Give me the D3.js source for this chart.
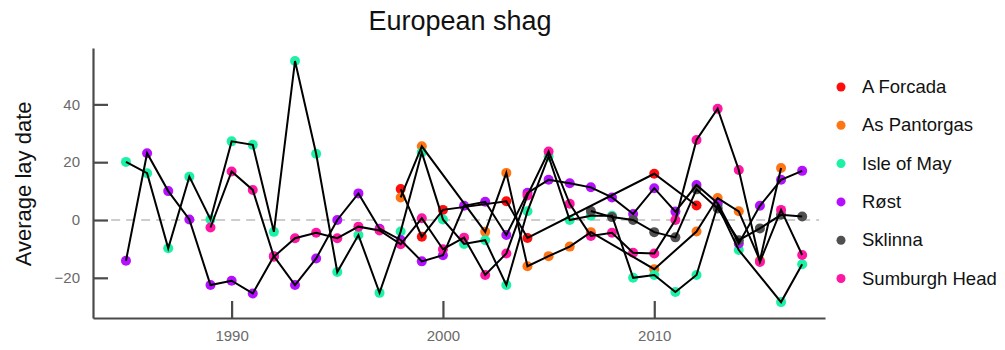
<!DOCTYPE html>
<html>
<head>
<meta charset="utf-8">
<script src="https://cdn.jsdelivr.net/npm/d3@7"></script>
<style>
  body { margin: 0; background: #fff; }
  #graf { width: 1005px; height: 350px; }
  text { font-family: "Liberation Sans", Arial, sans-serif; }
</style>
</head>
<body>
<div id="graf"></div>
<script>
// sites and colours
const sites = ['A Forcada', 'As Pantorgas', 'Isle of May', 'Røst', 'Sklinna', 'Sumburgh Head']
const colores = ['#ff0d0d', '#ff7414', '#1cf2a6', '#b40fff', '#505050', '#ff16a2']

const forcadaYears = [1998, 1999, 2000, 2003, 2004, 2010, 2012]
const forcadaValues = [10.7, -5.8, 3.5, 6.5, -6.2, 16, 5]

const pantorgasYears = [1998, 1999, 2002, 2003, 2004, 2005, 2006, 2007, 2010, 2012, 2013, 2014, 2015, 2016]
const pantorgasValues = [7.8, 25.5, -4.1, 16.3, -16, -12.5, -9.2, -4.2, -17, -4, 7.6, 3, -14, 18]

const mayYears = [1985, 1986, 1987, 1988, 1989, 1990, 1991, 1992, 1993, 1994, 1995, 1996, 1997, 1998, 1999, 2000,
  2001, 2002, 2003, 2004, 2005, 2006, 2007, 2008, 2009, 2010, 2011, 2012, 2013, 2014, 2016, 2017]
const mayValues = [20.1, 16.2, -9.8, 15, 0.2, 27.2, 26, -4.1, 55, 22.9, -18, -5.2, -25.2, -4, 23.4, 0.2,
  -8.3, -7, -22.5, 3, 22, 0, 1.5, 1.5, -20, -19, -24.9, -19, 5, -10.4, -28.4, -15.3]

const rostYears = d3.range(1985, 2018)
const rostValues = [-14.1, 23.1, 10, 0.2, -22.5, -21, -25.4, -12.5, -22.5, -13.3, 0, 9.2, -3, -6.9, -14.3, -12.2,
  4.9, 6.3, -5.2, 9.4, 13.9, 12.7, 11.3, 7.8, 2.1, 11, 2.9, 12.1, 5.8, -8.1, 4.9, 13.9, 17]

const sklinnaYears = d3.range(2007, 2018)
const sklinnaValues = [3.1, 1, 0, -4.2, -6, 10.6, 4, -7, -2.9, 1.8, 1.2]

const sumburghYears = d3.range(1989, 2018)
const sumburghValues = [-2.6, 16.8, 10.4, -12.7, -6.3, -4.4, -6.3, -2.3, -3.6, -8.4, 0.6, -10.1, -6.1, -19, -11.6,
  8.5, 23.7, 5.6, -5.5, -4.4, -11.3, -11.6, 0, 27.7, 38.5, 17.3, -14.5, 3.5, -12.1]

const xTicks = [1990, 2000, 2010]
const yTicks = [-20, 0, 20, 40]

const allYears = [forcadaYears, pantorgasYears, mayYears, rostYears, sklinnaYears, sumburghYears]
const allValues = [forcadaValues, pantorgasValues, mayValues, rostValues, sklinnaValues, sumburghValues]

const series = sites.map((s, i) => ({
  site: s,
  color: colores[i],
  points: allYears[i].map((yr, j) => ({ year: yr, value: allValues[i][j] }))
}))

const anchoTotal = 1005
const altoTotal = 350
const margin = { top: 48, bottom: 32, left: 93, right: 180 }

const svg = d3.select('#graf')
  .append('svg')
  .attr('width', anchoTotal)
  .attr('height', altoTotal)

const x = d3.scaleLinear()
  .domain([1983.44, 2018.08])
  .range([margin.left, anchoTotal - margin.right])

const y = d3.scaleLinear()
  .domain([-33.9, 59.5])
  .range([altoTotal - margin.bottom, margin.top])

// zero reference line
svg.append('line')
  .attr('x1', x(1984.3))
  .attr('x2', x(2017.8))
  .attr('y1', y(0))
  .attr('y2', y(0))
  .attr('stroke', '#cdcdcd')
  .attr('stroke-width', 2)
  .attr('stroke-dasharray', '9,6')

// axes
svg.append('g')
  .attr('transform', `translate(${margin.left},0)`)
  .call(d3.axisLeft(y).tickValues(yTicks).tickSize(-15).tickSizeOuter(0).tickPadding(13))

svg.append('g')
  .attr('transform', `translate(0,${altoTotal - margin.bottom})`)
  .call(d3.axisBottom(x).tickValues(xTicks).tickFormat(d3.format('d')).tickSize(-17).tickSizeOuter(0).tickPadding(12))

svg.selectAll('.domain, .tick line')
  .attr('stroke', '#4a4a4a')
  .attr('stroke-width', 2.2)

svg.selectAll('.tick text')
  .attr('fill', '#6a6a6a')
  .attr('font-size', 15)
  .style('font-family', '"Liberation Sans", Arial, sans-serif')

// points first, lines on top
series.forEach(s => {
  svg.append('g')
    .selectAll('circle')
    .data(s.points)
    .enter()
    .append('circle')
    .attr('cx', d => x(d.year))
    .attr('cy', d => y(d.value))
    .attr('r', 5)
    .attr('fill', s.color)
})

const linea = d3.line()
  .x(d => x(d.year))
  .y(d => y(d.value))

series.forEach(s => {
  svg.append('path')
    .datum(s.points)
    .attr('d', linea)
    .attr('fill', 'none')
    .attr('stroke', '#000')
    .attr('stroke-width', 2)
})

// title and labels
svg.append('text')
  .attr('x', 460)
  .attr('y', 30)
  .attr('text-anchor', 'middle')
  .attr('font-size', 27)
  .attr('fill', '#111')
  .text('European shag')

svg.append('text')
  .attr('transform', `translate(31, ${y(12.5)}) rotate(-90)`)
  .attr('text-anchor', 'middle')
  .attr('font-size', 22)
  .attr('fill', '#111')
  .text('Average lay date')

// legend
const legend = svg.append('g')
  .selectAll('g')
  .data(series)
  .enter()
  .append('g')
  .attr('transform', (d, i) => `translate(841, ${87 + i * 38.3})`)

legend.append('circle')
  .attr('r', 4.5)
  .attr('fill', d => d.color)

legend.append('text')
  .attr('x', 21)
  .attr('y', 6)
  .attr('font-size', 18.5)
  .attr('fill', '#111')
  .text(d => d.site)
</script>
</body>
</html>
